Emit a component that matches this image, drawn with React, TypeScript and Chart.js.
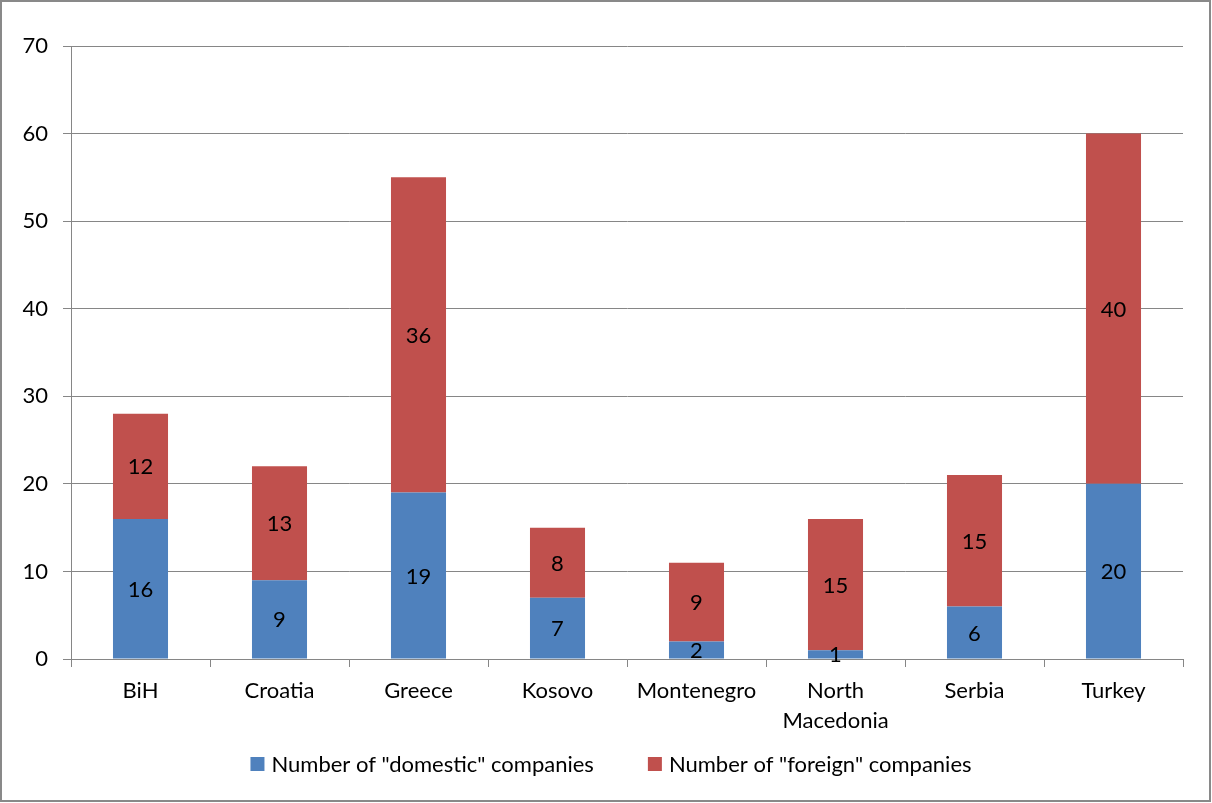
import React, { useEffect, useRef } from 'react';
import { Chart, registerables } from 'chart.js';

Chart.register(...registerables);

const categories: (string | string[])[] = ['BiH', 'Croatia', 'Greece', 'Kosovo', 'Montenegro', ['North', 'Macedonia'], 'Serbia', 'Turkey'];
const domestic = [16, 9, 19, 7, 2, 1, 6, 20];
const foreign = [12, 13, 36, 8, 9, 15, 15, 40];
const seriesNames = ['Number of "domestic" companies', 'Number of "foreign" companies'];
const seriesColors = ['#4F81BD', '#C0504D'];
const yMin = 0;
const yMax = 70;
const yStep = 10;

const FONT_FAMILY = 'Lato, "Open Sans", sans-serif';
const FONT_SIZE = 22;
const GRID = '#868686';

const backgroundPlugin = {
  id: 'bgBorder',
  beforeDraw(chart: any) {
    const { ctx, width, height } = chart;
    ctx.save();
    ctx.fillStyle = '#fff';
    ctx.fillRect(0, 0, width, height);
    ctx.restore();
  },
  afterDraw(chart: any) {
    const { ctx, width, height } = chart;
    ctx.save();
    ctx.strokeStyle = '#898989';
    ctx.lineWidth = 2;
    ctx.strokeRect(1, 1, width - 3, height - 3);
    ctx.restore();
  },
};

const dataLabelPlugin = {
  id: 'segLabels',
  afterDatasetsDraw(chart: any) {
    const { ctx } = chart;
    ctx.save();
    ctx.font = `${FONT_SIZE}px ${FONT_FAMILY}`;
    ctx.fillStyle = '#000';
    ctx.textAlign = 'center';
    ctx.textBaseline = 'middle';
    chart.data.datasets.forEach((ds: any, di: number) => {
      const meta = chart.getDatasetMeta(di);
      meta.data.forEach((el: any, i: number) => {
        const v = ds.data[i];
        const y = (el.y + el.base) / 2;
        ctx.fillText(String(v), el.x, y + 1);
      });
    });
    ctx.restore();
  },
};

const legendPlugin = {
  id: 'customLegend',
  afterDraw(chart: any) {
    const { ctx } = chart;
    const box = 14;
    const gap = 7;
    const spacing = 54;
    const cy = 764;
    const centerX = 611;
    ctx.save();
    ctx.font = `${FONT_SIZE}px ${FONT_FAMILY}`;
    const items = chart.data.datasets.map((ds: any) => ({
      text: ds.label as string,
      color: ds.backgroundColor as string,
      w: ctx.measureText(ds.label).width,
    }));
    const total = items.reduce((s: number, it: any) => s + box + gap + it.w, 0) + spacing * (items.length - 1);
    let x = centerX - total / 2;
    ctx.textBaseline = 'middle';
    ctx.textAlign = 'left';
    items.forEach((it: any) => {
      ctx.fillStyle = it.color;
      ctx.fillRect(x, cy - box / 2, box, box);
      ctx.fillStyle = '#000';
      ctx.fillText(it.text, x + box + gap, cy + 1);
      x += box + gap + it.w + spacing;
    });
    ctx.restore();
  },
};

export default function App() {
  const ref = useRef<HTMLCanvasElement>(null);
  useEffect(() => {
    document.body.style.margin = '0';
    const font = { family: FONT_FAMILY, size: FONT_SIZE, lineHeight: 1.36 };
    const chart = new Chart(ref.current as HTMLCanvasElement, {
      type: 'bar',
      data: {
        labels: categories as any,
        datasets: [
          { label: seriesNames[0], data: domestic, backgroundColor: seriesColors[0], barPercentage: 0.396, categoryPercentage: 1 },
          { label: seriesNames[1], data: foreign, backgroundColor: seriesColors[1], barPercentage: 0.396, categoryPercentage: 1 },
        ],
      },
      options: {
        responsive: false,
        animation: false,
        layout: { padding: { left: 0, right: 29, top: 46, bottom: 0 } },
        plugins: { legend: { display: false }, tooltip: { enabled: false } },
        scales: {
          x: {
            stacked: true,
            grid: { drawOnChartArea: false, tickLength: 8, color: GRID, offset: true },
            border: { color: GRID },
            ticks: { font, color: '#000', padding: 9, maxRotation: 0, autoSkip: false },
            afterFit: (s: any) => { s.height = 144; },
          },
          y: {
            stacked: true,
            min: yMin,
            max: yMax,
            ticks: { stepSize: yStep, font: { family: FONT_FAMILY, size: FONT_SIZE }, color: '#000', padding: 15 },
            grid: { color: GRID, tickLength: 8 },
            border: { color: GRID },
            afterFit: (s: any) => { s.width = 71; },
          },
        },
      } as any,
      plugins: [backgroundPlugin, dataLabelPlugin, legendPlugin],
    });
    return () => chart.destroy();
  }, []);
  return <canvas ref={ref} width={1212} height={803} style={{ display: 'block' }} />;
}
